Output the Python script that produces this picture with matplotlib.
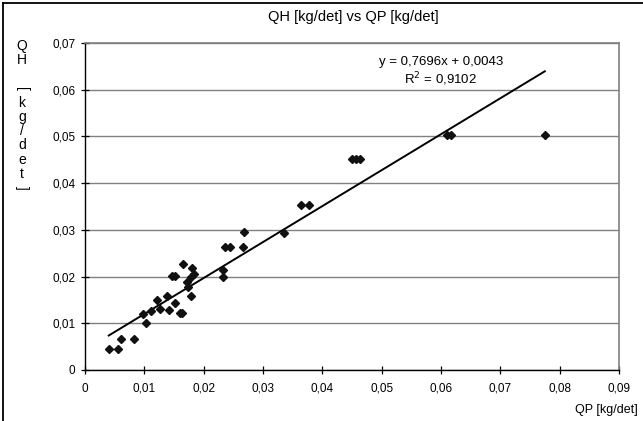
import numpy as np
import matplotlib.pyplot as plt
from matplotlib.ticker import FuncFormatter, MultipleLocator
from matplotlib.lines import Line2D

plt.rcParams['font.family'] = ['Liberation Sans', 'DejaVu Sans']

# data
qp = [0.0040, 0.0055, 0.0060, 0.0082, 0.0097, 0.0103, 0.0112, 0.0121, 0.0127,
      0.0138, 0.0141, 0.0146, 0.0151, 0.0152, 0.0160, 0.0164, 0.0166, 0.0180,
      0.0183, 0.0178, 0.0172, 0.0174, 0.0178, 0.0232, 0.0232, 0.0236, 0.0244,
      0.0266, 0.0268, 0.0336, 0.0364, 0.0377, 0.0450, 0.0457, 0.0464, 0.0610,
      0.0617, 0.0775]
qh = [0.0045, 0.0045, 0.0066, 0.0066, 0.0120, 0.0100, 0.0127, 0.0150, 0.0131,
      0.0159, 0.0128, 0.0201, 0.0201, 0.0143, 0.0123, 0.0123, 0.0227, 0.0218,
      0.0205, 0.0199, 0.0189, 0.0177, 0.0159, 0.0214, 0.0199, 0.0263, 0.0263,
      0.0263, 0.0295, 0.0293, 0.0353, 0.0353, 0.0451, 0.0451, 0.0451, 0.0503,
      0.0503, 0.0503]
slope = 0.7696
intercept = 0.0043
r2 = 0.9102

title = 'QH [kg/det] vs QP [kg/det]'
xlabel = 'QP [kg/det]'
ylabel_chars = ['Q', 'H', '', '[', 'k', 'g', '/', 'd', 'e', 't', ']']


def comma_fmt(v, pos):
    if abs(v) < 1e-9:
        return '0'
    return f'{v:.2f}'.replace('.', ',')


fig = plt.figure(figsize=(6.43, 4.21), dpi=100)
W, H = 643, 421
ax = fig.add_axes([85 / W, 1 - 370 / H, (619 - 85) / W, (370 - 43) / H])

ax.set_xlim(0, 0.09)
ax.set_ylim(0, 0.07)
ax.xaxis.set_major_locator(MultipleLocator(0.01))
ax.yaxis.set_major_locator(MultipleLocator(0.01))
ax.xaxis.set_major_formatter(FuncFormatter(comma_fmt))
ax.yaxis.set_major_formatter(FuncFormatter(comma_fmt))
ax.tick_params(direction='inout', length=6, width=0.9, labelsize=8.5, pad=4, color='black')
ax.tick_params(axis='x', pad=6)

ax.grid(axis='y', color='#808080', linewidth=1)
ax.set_axisbelow(True)
for s in ['top', 'right']:
    ax.spines[s].set_color('#808080')
    ax.spines[s].set_linewidth(1.2)
for s in ['left', 'bottom']:
    ax.spines[s].set_color('black')
    ax.spines[s].set_linewidth(1)

# trend line over data range
xs = np.array([min(qp), max(qp)])
ax.plot(xs, slope * xs + intercept, color='black', linewidth=1.4, zorder=3)
ax.plot(qp, qh, linestyle='none', marker='D', markersize=4.3, color='#111111', zorder=4)

eq = f'y = {slope:.4f}x + {intercept:.4f}'.replace('.', ',')
fig.text(441 / W, 1 - 62 / H, eq, ha='center', va='center', fontsize=9.5)
fig.text(440 / W, 1 - 79 / H, f'R$^2$ = {r2:.4f}'.replace('.', ','),
         ha='center', va='center', fontsize=9.5)

fig.text(353 / W, 1 - 17 / H, title, ha='center', va='center', fontsize=10.5)
fig.text(638 / W, 1 - 410 / H, xlabel, ha='right', va='center', fontsize=9)

# stacked vertical y label
for i, ch in enumerate(ylabel_chars):
    if not ch:
        continue
    rot = -90 if ch in '[]' else 0
    fig.text(22 / W, 1 - (46 + i * 14.2) / H, ch, ha='center', va='center',
             fontsize=10, rotation=rot)

# figure border (left and top)
fig.add_artist(Line2D([2.5 / W, 2.5 / W], [0, 1 - 2.5 / H], color='black', linewidth=1.3,
                      transform=fig.transFigure))
fig.add_artist(Line2D([2.5 / W, 1], [1 - 2.5 / H, 1 - 2.5 / H], color='black', linewidth=1.3,
                      transform=fig.transFigure))

fig.savefig('out.png', dpi=100)
